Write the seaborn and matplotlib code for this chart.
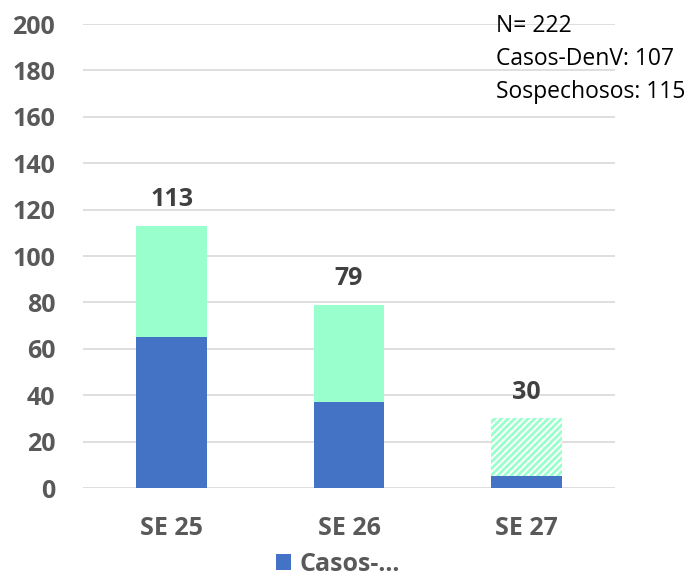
import matplotlib
matplotlib.use("Agg")
import matplotlib.pyplot as plt
import seaborn as sns
import pandas as pd
from matplotlib.patches import Patch

categories = ["SE 25", "SE 26", "SE 27"]
casos_denv = [65, 37, 5]
sospechosos = [48, 42, 25]
totales = [c + s for c, s in zip(casos_denv, sospechosos)]
yticks = [0, 20, 40, 60, 80, 100, 120, 140, 160, 180, 200]
info_lines = ["N= 222", "Casos-DenV: 107", "Sospechosos: 115"]
legend_label = "Casos-..."

BLUE = "#4472C4"
MINT = "#99FFCC"
GRAY_TXT = "#595959"
DARK_TXT = "#404040"

sns.set_theme(style="white")
plt.rcParams["font.family"] = ["Open Sans", "DejaVu Sans"]
plt.rcParams["hatch.linewidth"] = 2.0

df = pd.DataFrame({"semana": categories, "casos": casos_denv, "total": totales})

fig = plt.figure(figsize=(6.89, 5.77), dpi=100)
fig.patch.set_facecolor("white")
ax = fig.add_axes([83 / 689, 1 - 488 / 577, 532 / 689, 464 / 577])

sns.barplot(data=df, x="semana", y="total", color=MINT, saturation=1, width=0.4, ax=ax)
total_container = ax.containers[0]
sns.barplot(data=df, x="semana", y="casos", color=BLUE, saturation=1, width=0.4, ax=ax)

for p in total_container.patches:
    p.set_linewidth(0)
# hatch for last (partial) week
last = total_container.patches[-1]
last.set_facecolor("white")
last.set_edgecolor(MINT)
last.set_hatch("/////")
last.set_linewidth(0)
for p in ax.containers[1].patches:
    p.set_linewidth(0)

FS = 18
ax.bar_label(total_container, labels=[str(t) for t in totales], padding=10,
             fontsize=FS, fontweight="bold", color=DARK_TXT)

ax.set_ylim(0, 200)
ax.set_xlim(-0.5, 2.5)
ax.set_yticks(yticks)
ax.yaxis.grid(True, color="#D9D9D9", linewidth=1.2)
ax.set_axisbelow(True)
ax.tick_params(axis="y", length=0, pad=20, labelsize=FS, labelcolor=GRAY_TXT)
ax.tick_params(axis="x", length=0, pad=20, labelsize=FS, labelcolor=GRAY_TXT)
for lbl in ax.get_yticklabels() + ax.get_xticklabels():
    lbl.set_fontweight("bold")
ax.set_xlabel("")
ax.set_ylabel("")
for s in ax.spines.values():
    s.set_visible(False)
ax.set_facecolor("none")

for i, line in enumerate(info_lines):
    fig.text(496 / 689, 1 - (32 + 33 * i) / 577, line, fontsize=16.5, color="black",
             ha="left", va="baseline")

handle = Patch(facecolor=BLUE, edgecolor="none")
fig.legend([handle], [legend_label], loc="lower left", bbox_to_anchor=(276 / 689, 0.0),
           frameon=False, prop={"weight": "bold", "size": FS}, labelcolor=GRAY_TXT,
           handlelength=0.6, handleheight=0.6, handletextpad=0.35, borderpad=0, borderaxespad=0)

fig.savefig("out.png", dpi=100, facecolor="white")
